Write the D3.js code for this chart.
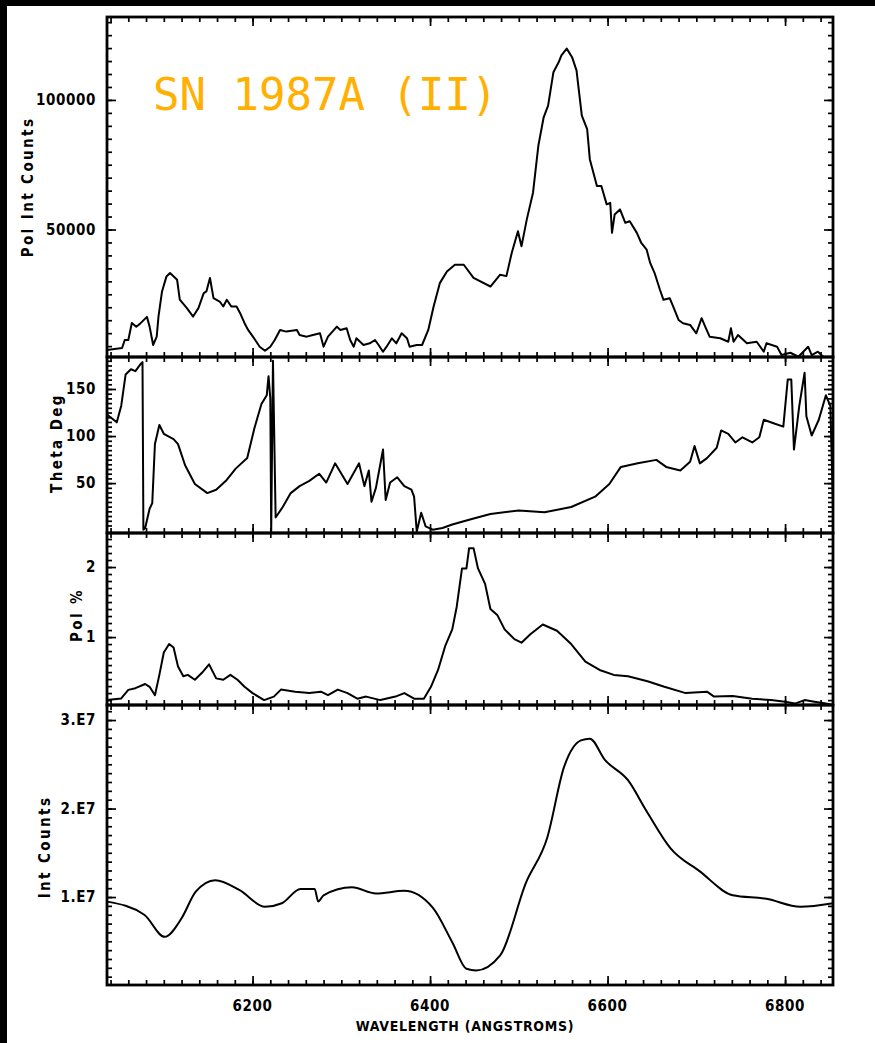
<!DOCTYPE html>
<html>
<head>
<meta charset="utf-8">
<script src="https://cdn.jsdelivr.net/npm/d3@7"></script>
<style>
    html, body { margin: 0; padding: 0; background: #fff; }
    svg { display: block; }
</style>
</head>
<body>
<svg id="chart" width="875" height="1043"></svg>
<script>
// wavelength grid (Angstroms) and values
const polIntWave = [6036, 6053, 6056, 6060, 6064, 6069, 6073, 6081, 6084, 6088, 6092, 6094, 6098, 6103, 6107, 6115, 6118, 6126, 6133, 6139, 6145, 6148, 6152, 6156, 6163, 6167, 6171, 6176, 6182, 6186, 6191, 6195, 6203, 6208, 6214, 6220, 6225, 6231, 6238, 6250, 6253, 6261, 6268, 6276, 6280, 6285, 6295, 6299, 6306, 6310, 6314, 6317, 6325, 6332, 6338, 6342, 6347, 6351, 6357, 6362, 6368, 6374, 6377, 6385, 6391, 6398, 6404, 6411, 6419, 6428, 6438, 6449, 6468, 6479, 6486, 6492, 6499, 6503, 6509, 6516, 6522, 6528, 6533, 6539, 6545, 6548, 6554, 6560, 6565, 6571, 6577, 6580, 6588, 6593, 6599, 6603, 6605, 6608, 6614, 6620, 6625, 6633, 6638, 6644, 6648, 6653, 6659, 6663, 6670, 6674, 6680, 6685, 6693, 6700, 6706, 6710, 6715, 6727, 6736, 6739, 6742, 6747, 6757, 6768, 6776, 6779, 6791, 6796, 6806, 6815, 6826, 6830, 6837, 6843, 6849, 6854]
const polIntCounts = [3490, 4260, 7360, 7360, 13950, 12500, 13570, 16280, 12520, 5430, 8650, 16400, 26100, 31900, 33200, 30600, 22900, 19650, 16400, 19650, 25470, 26100, 31280, 23530, 22200, 20270, 22870, 20270, 20270, 17700, 13840, 11240, 7360, 4780, 3230, 4780, 7360, 11240, 10600, 11240, 9300, 8650, 9300, 9950, 4780, 8650, 12500, 11240, 11900, 7360, 4780, 8020, 5430, 6080, 7360, 5430, 2830, 4780, 8020, 6080, 9950, 8020, 4780, 5430, 5430, 11240, 20270, 29300, 33800, 36400, 36400, 31300, 28000, 32560, 32000, 40960, 49300, 43500, 53900, 64200, 82300, 93300, 97800, 110700, 114600, 117200, 119800, 116500, 111400, 93900, 88760, 77130, 66800, 66800, 59700, 60300, 48700, 55800, 57750, 52600, 53200, 48700, 44800, 42250, 37100, 33200, 26740, 22870, 23500, 20270, 15100, 13840, 13180, 9950, 15770, 12500, 8650, 8020, 6700, 11900, 6700, 9300, 6080, 6700, 2830, 6080, 4780, 1550, 2440, 890, 4780, 1550, 2830, 890, 800, 800]

const thetaWave = [6036, 6047, 6052, 6057, 6063, 6068, 6074, 6076, 6077, 6079, 6084, 6087, 6090, 6095, 6100, 6111, 6116, 6124, 6135, 6149, 6159, 6170, 6181, 6194, 6202, 6210, 6216, 6218, 6220, 6221, 6223, 6226, 6234, 6243, 6253, 6264, 6275, 6283, 6293, 6307, 6320, 6326, 6331, 6334, 6339, 6347, 6350, 6355, 6363, 6371, 6379, 6382, 6385, 6390, 6395, 6403, 6414, 6425, 6446, 6468, 6500, 6529, 6559, 6586, 6602, 6615, 6634, 6655, 6666, 6682, 6693, 6698, 6704, 6712, 6723, 6728, 6736, 6744, 6752, 6763, 6771, 6776, 6787, 6798, 6803, 6807, 6810, 6816, 6822, 6824, 6830, 6838, 6846, 6851, 6854]
const thetaDeg = [123, 114.6, 132, 165.5, 171, 169, 176.6, 178.5, 0.5, 2.3, 22.8, 28.7, 91.5, 111.7, 102.4, 96.8, 91.5, 69, 49, 39.4, 43, 52.4, 65.4, 76.6, 108, 134, 143.3, 163.6, 140, -3, 180, 13.5, 24.6, 39.4, 46.8, 52.4, 60, 50.6, 71, 49, 71, 46.8, 63.5, 30.2, 45, 85.7, 32, 50.6, 56.2, 46.8, 43, 35.6, -1.4, 18.5, 4, 0.5, 2.3, 6, 11.7, 17.2, 21, 19, 24.6, 35.6, 49, 67.2, 71, 74.7, 67.2, 63.5, 72.8, 89.4, 71, 76.6, 87.6, 106, 102.4, 93.2, 98.7, 93.2, 98.7, 117.3, 113.6, 110, 160, 160, 85.7, 132, 167.3, 121, 100.6, 117.3, 143.3, 132, 26.6]

const polWave = [6036, 6052, 6060, 6068, 6079, 6084, 6090, 6095, 6100, 6106, 6111, 6116, 6122, 6127, 6135, 6143, 6151, 6159, 6167, 6175, 6183, 6191, 6200, 6213, 6224, 6232, 6248, 6264, 6277, 6285, 6296, 6307, 6318, 6328, 6344, 6361, 6371, 6382, 6393, 6401, 6409, 6417, 6425, 6430, 6436, 6441, 6444, 6449, 6454, 6462, 6468, 6476, 6484, 6495, 6503, 6513, 6527, 6543, 6559, 6575, 6591, 6607, 6623, 6645, 6664, 6688, 6712, 6720, 6741, 6763, 6784, 6800, 6811, 6822, 6833, 6846, 6854]
const polPct = [0.1, 0.124, 0.246, 0.27, 0.33, 0.29, 0.17, 0.46, 0.78, 0.9, 0.85, 0.58, 0.44, 0.46, 0.39, 0.49, 0.61, 0.41, 0.39, 0.46, 0.39, 0.29, 0.2, 0.1, 0.15, 0.25, 0.22, 0.2, 0.22, 0.17, 0.25, 0.2, 0.12, 0.15, 0.1, 0.15, 0.2, 0.12, 0.12, 0.29, 0.53, 0.87, 1.11, 1.43, 1.98, 1.98, 2.27, 2.27, 1.98, 1.76, 1.4, 1.31, 1.11, 0.97, 0.92, 1.04, 1.18, 1.09, 0.9, 0.65, 0.53, 0.46, 0.44, 0.37, 0.29, 0.2, 0.22, 0.15, 0.16, 0.12, 0.1, 0.076, 0.05, 0.1, 0.076, 0.05, 0.03]

const intWave = [6036, 6078, 6101, 6120, 6136, 6158, 6185, 6214, 6233, 6254, 6270, 6274, 6280, 6312, 6339, 6371, 6403, 6425, 6441, 6452, 6479, 6508, 6532, 6551, 6570, 6580, 6597, 6623, 6644, 6671, 6704, 6741, 6779, 6817, 6854]
const intCounts = [9.48e6, 8.0e6, 5.5e6, 7.6e6, 10.6e6, 11.9e6, 10.8e6, 8.9e6, 9.3e6, 10.9e6, 10.9e6, 9.5e6, 10.2e6, 11.1e6, 10.4e6, 10.7e6, 8.8e6, 4.9e6, 1.9e6, 1.7e6, 3.4e6, 11.6e6, 16.7e6, 24.7e6, 27.7e6, 27.9e6, 25.5e6, 23.2e6, 19.7e6, 15.5e6, 12.9e6, 10.2e6, 9.8e6, 8.9e6, 9.3e6]

// tick values and labels
const waveTicks = [6200, 6400, 6600, 6800]
const polIntTicks = [50000, 100000]
const polIntTickLabels = ['50000', '100000']
const thetaTicks = [50, 100, 150]
const thetaTickLabels = ['50', '100', '150']
const polTicks = [1, 2]
const polTickLabels = ['1', '2']
const intTicks = [1e7, 2e7, 3e7]
const intTickLabels = ['1.E7', '2.E7', '3.E7']

const plotFont = '"DejaVu Sans Condensed", "DejaVu Sans", sans-serif'
const left = 107
const right = 833

let svg = d3.select('#chart')
svg.append('rect').attr('width', 875).attr('height', 1043).attr('fill', '#fff')

let x = d3.scaleLinear().domain([6036, 6854]).range([left, right])

let panels = [
    { title: 'Pol Int Counts', titleX: 33, titleY: 187, top: 17, bottom: 357, domain: [800, 132000],
        wave: polIntWave, values: polIntCounts, minor: d3.range(5000, 131000, 5000),
        major: polIntTicks, labels: polIntTickLabels, curve: d3.curveLinear },
    { title: 'Theta Deg', titleX: 62, titleY: 443, top: 357, bottom: 533, domain: [-3, 184],
        wave: thetaWave, values: thetaDeg, minor: d3.range(5, 184, 5),
        major: thetaTicks, labels: thetaTickLabels, curve: d3.curveLinear },
    { title: 'Pol %', titleX: 82, titleY: 615, top: 533, bottom: 705, domain: [0.03, 2.486],
        wave: polWave, values: polPct, minor: d3.range(0.1, 2.45, 0.1),
        major: polTicks, labels: polTickLabels, curve: d3.curveLinear },
    { title: 'Int Counts', titleX: 50, titleY: 847, top: 705, bottom: 985, domain: [6e4, 3.17e7],
        wave: intWave, values: intCounts, minor: d3.range(1e6, 3.15e7, 1e6),
        major: intTicks, labels: intTickLabels, curve: d3.curveMonotoneX }
]

let waveMinor = d3.range(6040, 6854, 20)

function styleAxis (g) {
    g.select('.domain').remove()
    g.selectAll('line').attr('stroke', '#000').attr('stroke-width', 1.7)
    g.selectAll('text')
        .attr('fill', '#000')
        .attr('font-family', plotFont)
        .attr('font-weight', 'bold')
        .attr('font-size', '15px')
        .attr('letter-spacing', '0.6px')
}

panels.forEach(p => {
    let y = d3.scaleLinear().domain(p.domain).range([p.bottom, p.top])
    let g = svg.append('g')

    // ticks on all four sides, pointing inward
    g.append('g').attr('transform', 'translate(' + left + ',0)')
        .call(d3.axisLeft(y).tickValues(p.minor).tickSize(-5).tickFormat(''))
        .call(styleAxis)
    g.append('g').attr('transform', 'translate(' + left + ',0)')
        .call(d3.axisLeft(y).tickValues(p.major).tickSize(-9).tickPadding(11)
            .tickFormat((d, i) => p.labels[i]))
        .call(styleAxis)
    g.append('g').attr('transform', 'translate(' + right + ',0)')
        .call(d3.axisRight(y).tickValues(p.minor).tickSize(-5).tickFormat(''))
        .call(styleAxis)
    g.append('g').attr('transform', 'translate(' + right + ',0)')
        .call(d3.axisRight(y).tickValues(p.major).tickSize(-9).tickFormat(''))
        .call(styleAxis)
    g.append('g').attr('transform', 'translate(0,' + p.top + ')')
        .call(d3.axisTop(x).tickValues(waveMinor).tickSize(-5).tickFormat(''))
        .call(styleAxis)
    g.append('g').attr('transform', 'translate(0,' + p.top + ')')
        .call(d3.axisTop(x).tickValues(waveTicks).tickSize(-9).tickFormat(''))
        .call(styleAxis)
    g.append('g').attr('transform', 'translate(0,' + p.bottom + ')')
        .call(d3.axisBottom(x).tickValues(waveMinor).tickSize(-5).tickFormat(''))
        .call(styleAxis)
    g.append('g').attr('transform', 'translate(0,' + p.bottom + ')')
        .call(d3.axisBottom(x).tickValues(waveTicks).tickSize(-9).tickFormat(''))
        .call(styleAxis)

    let line = d3.line()
        .x((d, i) => x(p.wave[i]))
        .y(d => y(d))
        .curve(p.curve)
    g.append('path')
        .datum(p.values)
        .attr('d', line)
        .attr('fill', 'none')
        .attr('stroke', '#000')
        .attr('stroke-width', 2)
        .attr('stroke-linejoin', 'round')

    g.append('rect')
        .attr('x', left)
        .attr('y', p.top)
        .attr('width', right - left)
        .attr('height', p.bottom - p.top)
        .attr('fill', 'none')
        .attr('stroke', '#000')
        .attr('stroke-width', 2.8)

    g.append('text')
        .text(p.title)
        .attr('transform', 'translate(' + p.titleX + ',' + p.titleY + ') rotate(-90)')
        .attr('text-anchor', 'middle')
        .attr('font-family', plotFont)
        .attr('font-weight', 'bold')
        .attr('font-size', '15px')
        .attr('letter-spacing', '2.4px')
})

// wavelength labels under the bottom panel
svg.append('g').selectAll('text')
    .data(waveTicks)
    .enter()
    .append('text')
    .text(d => d)
    .attr('x', d => x(d))
    .attr('y', 1011)
    .attr('text-anchor', 'middle')
    .attr('font-family', plotFont)
    .attr('font-weight', 'bold')
    .attr('font-size', '15px')
    .attr('letter-spacing', '0.6px')

svg.append('text')
    .text('WAVELENGTH (ANGSTROMS)')
    .attr('x', 465)
    .attr('y', 1031)
    .attr('text-anchor', 'middle')
    .attr('font-family', plotFont)
    .attr('font-weight', 'bold')
    .attr('font-size', '14px')
    .attr('letter-spacing', '0.7px')

svg.append('text')
    .text('SN 1987A (II)')
    .attr('x', 153)
    .attr('y', 110)
    .attr('fill', '#ffb000')
    .attr('font-family', '"DejaVu Sans Mono", "Liberation Mono", monospace')
    .attr('font-size', '44px')

// black scan borders
svg.append('rect').attr('x', 0).attr('y', 0).attr('width', 875).attr('height', 6).attr('fill', '#000')
svg.append('rect').attr('x', 0).attr('y', 0).attr('width', 7).attr('height', 1043).attr('fill', '#000')
</script>
</body>
</html>
